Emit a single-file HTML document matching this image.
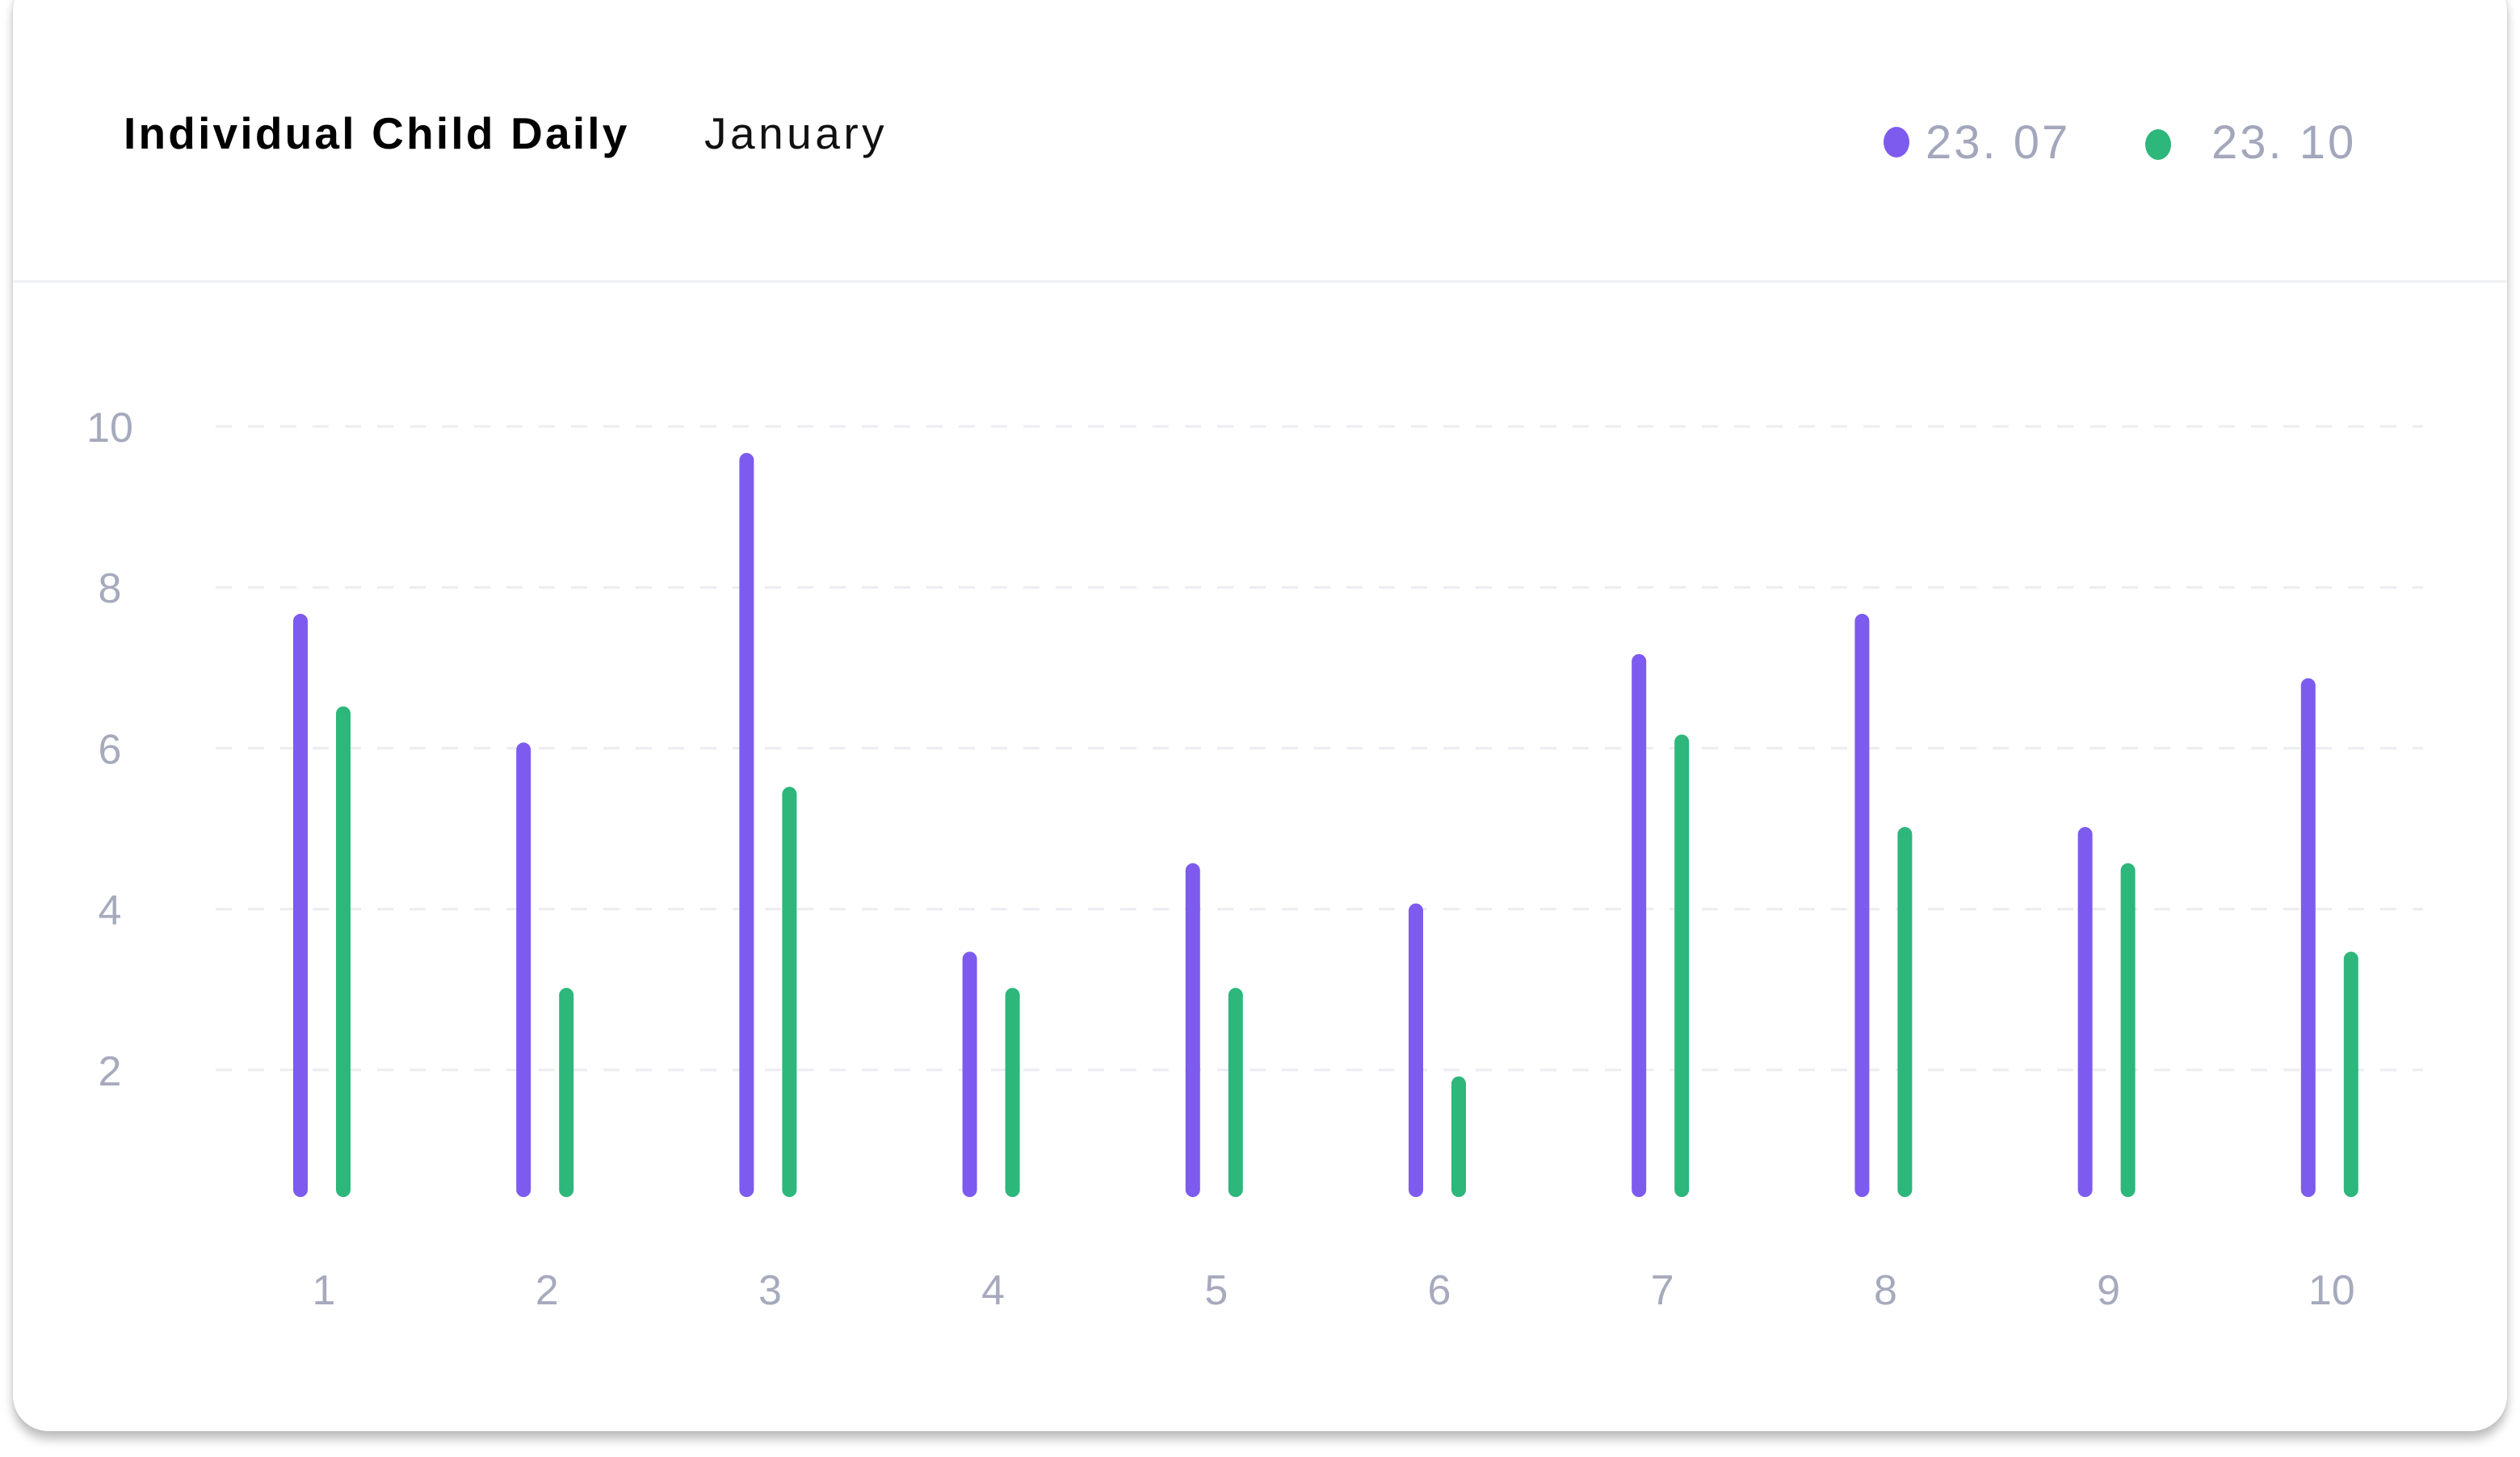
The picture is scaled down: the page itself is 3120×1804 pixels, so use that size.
<!DOCTYPE html>
<html><head><meta charset="utf-8"><style>
html,body{margin:0;padding:0;background:#fff;width:3120px;height:1804px;overflow:hidden;font-family:"Liberation Sans",sans-serif}
#card{position:absolute;left:16px;top:-30px;width:3088px;height:1802px;background:#fff;border-radius:44px;box-shadow:0 10px 12px rgba(0,0,0,0.25),0 0 6px rgba(0,0,0,0.08)}
#divider{position:absolute;left:16px;top:347px;width:3088px;height:3px;background:#eff0f5}
.t{position:absolute;white-space:nowrap}
</style></head><body>
<div id="card"></div>
<div id="divider"></div>
<div class="t" style="left:153px;top:133px;font-size:55px;font-weight:bold;color:#000;letter-spacing:3.2px">Individual Child Daily</div>
<div class="t" style="left:872px;top:133px;font-size:55px;color:#111;letter-spacing:4.5px">January</div>
<div style="position:absolute;left:2332px;top:157px;width:32px;height:38px;border-radius:50%;background:#7d5bee"></div>
<div class="t" style="left:2384px;top:143px;font-size:58px;color:#a3a7bc;letter-spacing:3px">23. 07</div>
<div style="position:absolute;left:2656px;top:160px;width:32px;height:38px;border-radius:50%;background:#2db77b"></div>
<div class="t" style="left:2738px;top:143px;font-size:58px;color:#a3a7bc;letter-spacing:3px">23. 10</div>
<svg id="chart" width="3120" height="1804" style="position:absolute;left:0;top:0"></svg>
<script>
const categories=["1","2","3","4","5","6","7","8","9","10"];
const series2307=[7.6,6.0,9.6,3.4,4.5,4.0,7.1,7.6,4.95,6.8];
const series2310=[6.45,2.95,5.45,2.95,2.95,1.85,6.1,4.95,4.5,3.4];
const yTicks=[2,4,6,8,10];
const NS="http://www.w3.org/2000/svg";
const svg=document.getElementById('chart');
function y(v){return 1524-v*99.6;}
function x(i){return 372+i*276.2;}
const baseV=0.42;
function mk(t,a){const e=document.createElementNS(NS,t);for(const k in a)e.setAttribute(k,a[k]);svg.appendChild(e);return e;}
yTicks.forEach(v=>{
 const g=mk('line',{x1:267,x2:3000,y1:y(v),y2:y(v),stroke:'#ececf3','stroke-width':3,'stroke-dasharray':'20 20'});
 
 
 const t=mk('text',{x:136,y:y(v)+19,'text-anchor':'middle','font-size':52,fill:'#a6aabd','font-family':'Liberation Sans, sans-serif'});
 t.textContent=v;
 
 
});
categories.forEach((c,i)=>{
 const xp=x(i);
 const b1=mk('line',{x1:xp,x2:xp,y1:y(series2307[i])+2,y2:y(baseV)-9,stroke:'#7d5bee','stroke-width':18,'stroke-linecap':'round'});
 
 
 const b2=mk('line',{x1:xp+53,x2:xp+53,y1:y(series2310[i])+2,y2:y(baseV)-9,stroke:'#2db77b','stroke-width':18,'stroke-linecap':'round'});
 
 
 const t=mk('text',{x:xp+29,y:1615,'text-anchor':'middle','font-size':52,fill:'#a6aabd','font-family':'Liberation Sans, sans-serif'});
 t.textContent=c;
 
 
});
</script>
</body></html>
